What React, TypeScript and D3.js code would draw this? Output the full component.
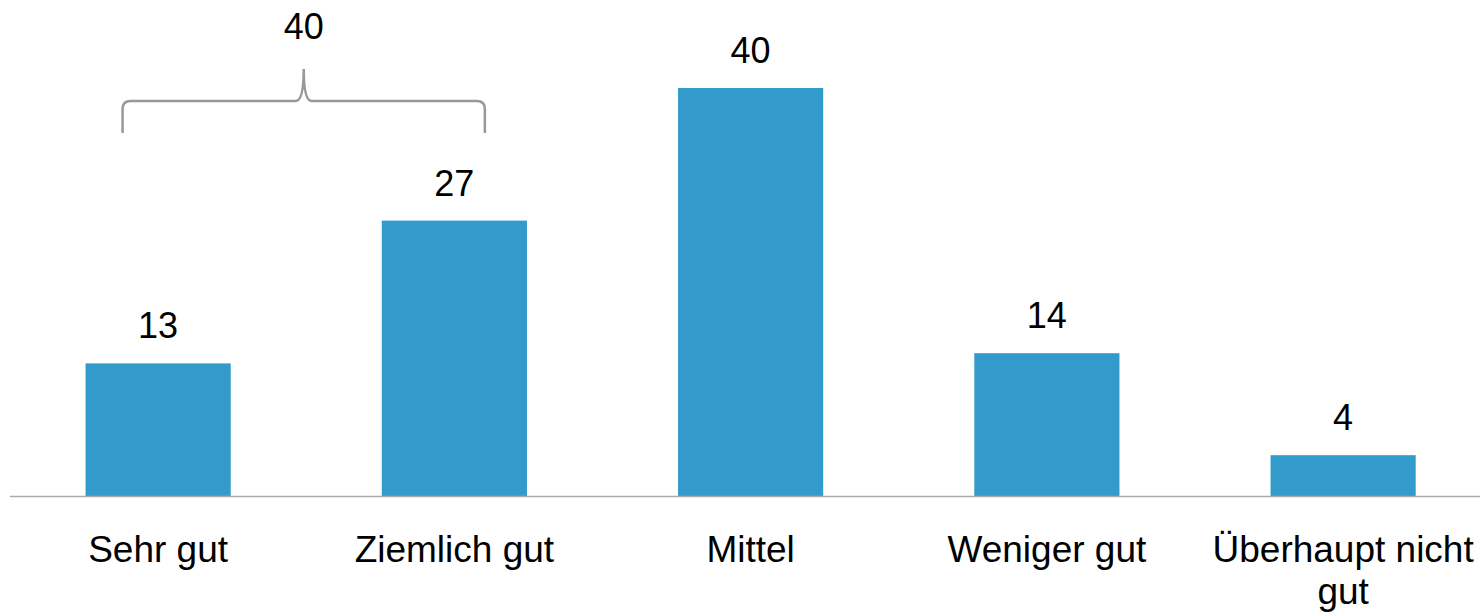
import * as d3 from 'd3';
import { useEffect, useRef } from 'react';

const categories = ['Sehr gut', 'Ziemlich gut', 'Mittel', 'Weniger gut', 'Überhaupt nicht gut'];
const values = [13, 27, 40, 14, 4];
const tickLines = [['Sehr gut'], ['Ziemlich gut'], ['Mittel'], ['Weniger gut'], ['Überhaupt nicht', 'gut']];
const bracketGroup = ['Sehr gut', 'Ziemlich gut'];

const W = 1480;
const H = 616;

const App = () => {
  const ref = useRef<SVGSVGElement>(null);

  useEffect(() => {
    const svg = d3.select(ref.current);
    svg.selectAll('*').remove();

    const font = '"Liberation Sans", Arial, sans-serif';
    const x = d3.scaleBand().domain(categories).range([10, 1491.25]).paddingInner(0.51).paddingOuter(0.255);
    const y = d3.scaleLinear().domain([0, 40]).range([496, 88]);

    svg.selectAll('rect.bar')
      .data(values)
      .enter()
      .append('rect')
      .attr('class', 'bar')
      .attr('x', (_, i) => x(categories[i])!)
      .attr('y', d => y(d))
      .attr('width', x.bandwidth())
      .attr('height', d => y(0) - y(d))
      .attr('fill', '#339acc');

    svg.append('line')
      .attr('x1', 10).attr('x2', W)
      .attr('y1', y(0) + 0.5).attr('y2', y(0) + 0.5)
      .attr('stroke', '#aaaaaa').attr('stroke-width', 1.5);

    svg.selectAll('text.val')
      .data(values)
      .enter()
      .append('text')
      .attr('class', 'val')
      .attr('x', (_, i) => x(categories[i])! + x.bandwidth() / 2)
      .attr('y', d => y(d) - 25)
      .attr('text-anchor', 'middle')
      .attr('font-family', font)
      .attr('font-size', 36)
      .attr('fill', '#000')
      .text(d => d);

    tickLines.forEach((lines, i) => {
      const cx = x(categories[i])! + x.bandwidth() / 2;
      const t = svg.append('text')
        .attr('x', cx)
        .attr('y', 562)
        .attr('text-anchor', 'middle')
        .attr('font-family', font)
        .attr('font-size', 37)
        .attr('fill', '#000');
      lines.forEach((l, j) => {
        t.append('tspan')
          .attr('x', cx)
          .attr('dy', j === 0 ? 0 : 42)
          .text(l);
      });
    });

    // bracket over the two top categories
    const bw = x.bandwidth();
    const left = x(bracketGroup[0])! + bw * 0.255;
    const right = x(bracketGroup[1])! + bw * 0.71;
    const mid = (left + right) / 2;
    const yb = 101, yTop = 69, yEnd = 133, r = 8;
    const path = `M${left},${yEnd} L${left},${yb + r} Q${left},${yb} ${left + r},${yb} ` +
      `L${mid - r},${yb} Q${mid},${yb} ${mid},${yTop} Q${mid},${yb} ${mid + r},${yb} ` +
      `L${right - r},${yb} Q${right},${yb} ${right},${yb + r} L${right},${yEnd}`;
    svg.append('path')
      .attr('d', path)
      .attr('fill', 'none')
      .attr('stroke', '#999999')
      .attr('stroke-width', 2.5);

    const sum = d3.sum(bracketGroup, c => values[categories.indexOf(c)]);
    svg.append('text')
      .attr('x', mid)
      .attr('y', 39)
      .attr('text-anchor', 'middle')
      .attr('font-family', font)
      .attr('font-size', 36)
      .attr('fill', '#000')
      .text(sum);
  }, []);

  return <svg ref={ref} width={W} height={H} style={{ position: 'absolute', left: 0, top: 0 }} />;
};

export default App;
